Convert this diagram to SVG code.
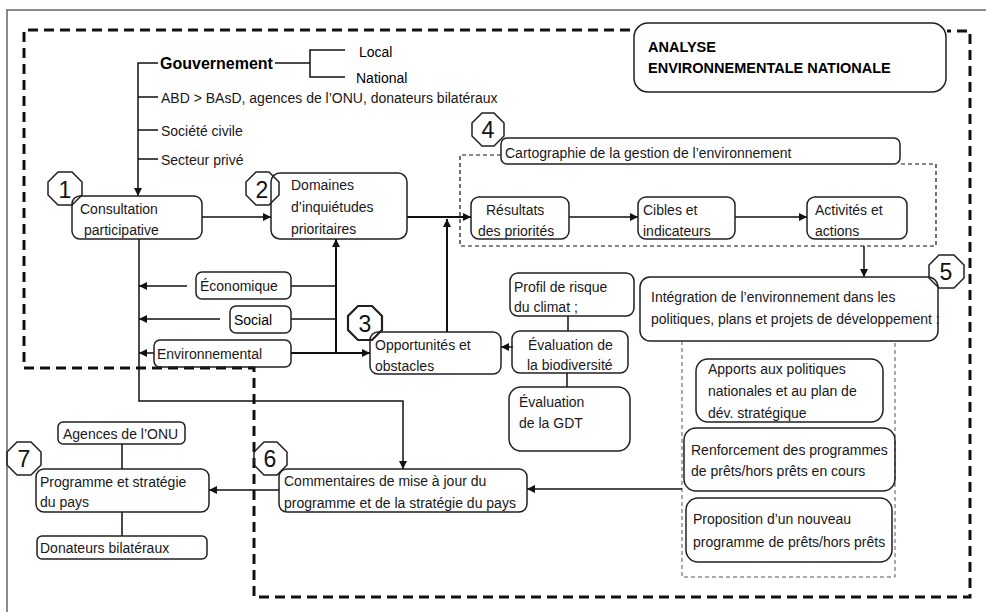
<svg xmlns="http://www.w3.org/2000/svg" width="986" height="612" viewBox="0 0 986 612">
<defs>
<marker id="ah" viewBox="0 0 10 10" refX="10" refY="5" markerWidth="9" markerHeight="8" markerUnits="userSpaceOnUse" orient="auto"><path d="M0,0 L10,5 L0,10 z" fill="#111"/></marker>
<style>
.t{font-family:"Liberation Sans",Arial,sans-serif;font-size:14px;fill:#1a1718}
.b{font-weight:bold;fill:#000}
.n{font-family:"Liberation Sans",Arial,sans-serif;font-size:23px;fill:#111;text-anchor:middle}
.box{fill:none;stroke:#231f20;stroke-width:1.5}
.oct{fill:none;stroke:#231f20;stroke-width:1.5}
.ln{fill:none;stroke:#111;stroke-width:1.5}
.thk{fill:none;stroke:#111;stroke-width:2}
.arr{marker-end:url(#ah)}
</style>
</defs>
<rect width="986" height="612" fill="#fff"/>
<path d="M7,612 V10 H986" fill="none" stroke="#666" stroke-width="1.5"/>
<path d="M630,30 H24 V368 H254 V597 H970 V31 H947" fill="none" stroke="#111" stroke-width="3" stroke-dasharray="10 6"/>
<path d="M501,155 H460 V246 H936 V164 H900" fill="none" stroke="#111" stroke-width="1.2" stroke-dasharray="4 3"/>
<path d="M682,341 V577 H895 V341" fill="none" stroke="#555" stroke-width="1" stroke-dasharray="4 3"/>

<g id="connectors">
<path class="ln" d="M158,63 H138 V196" marker-end="url(#ah)"/>
<path class="ln" d="M138,97 H158 M138,130 H158 M138,159 H158"/>
<path class="ln" d="M275,63 H310 M345,50 H310 V77 H345"/>
<path class="ln arr" d="M202,217 H271"/>
<path class="thk arr" d="M407,217 H471"/>
<path class="thk arr" d="M447,332 V219"/>
<path class="ln arr" d="M569,217 H638"/>
<path class="ln arr" d="M735,217 H807"/>
<path class="ln arr" d="M864,246 V277"/>
<path class="ln arr" d="M187,286 H139"/>
<path class="ln arr" d="M220,319 H139"/>
<path class="ln arr" d="M154,353 H139"/>
<path class="ln" d="M291,286 H336 M291,319 H336"/>
<path class="thk arr" d="M291,353 H370"/>
<path class="thk arr" d="M336,353 V239"/>
<path class="ln arr" d="M513,347 H501"/>
<path class="ln" d="M568,316 V331 M567,373 V387"/>
<path class="ln arr" d="M139,239 V401 H403 V469"/>
<path class="ln arr" d="M682,489 H527"/>
<path class="ln arr" d="M279,490 H209"/>
<path class="ln" d="M122,444 V469 M122,512 V536"/>
</g>

<g id="title">
<rect x="634" y="23" width="312" height="69" rx="14" fill="#fff" stroke="#231f20" stroke-width="1.5"/>
<text class="t b" x="648" y="52" style="font-size:14.5px">ANALYSE</text>
<text class="t b" x="648" y="73" style="font-size:14.5px">ENVIRONNEMENTALE NATIONALE</text>
</g>

<g id="gouvernement">
<text class="t b" x="160" y="69" style="font-size:16px">Gouvernement</text>
</g>
<g id="local"><text class="t" x="359" y="57" style="fill:#000">Local</text></g>
<g id="national"><text class="t" x="356" y="83" style="fill:#000">National</text></g>
<g id="abd"><text class="t" x="161" y="103">ABD &gt; BAsD, agences de l’ONU, donateurs bilatéraux</text></g>
<g id="societe"><text class="t" x="161" y="136">Société civile</text></g>
<g id="secteur"><text class="t" x="161" y="165">Secteur privé</text></g>

<g id="consultation">
<rect class="box" x="72" y="196" width="130" height="43" rx="8"/>
<text class="t" x="80" y="214">Consultation</text>
<text class="t" x="84" y="235">participative</text>
</g>
<g id="badge1">
<polygon class="oct" points="58,172 72,172 82,182 82,195 72,205 58,205 48,195 48,182"/>
<text class="n" x="65" y="198">1</text>
</g>

<g id="domaines">
<rect class="box" x="271" y="173" width="136" height="66" rx="9"/>
<text class="t" x="291" y="190">Domaines</text>
<text class="t" x="291" y="212">d’inquiétudes</text>
<text class="t" x="291" y="234">prioritaires</text>
</g>
<g id="badge2">
<polygon class="oct" points="256,172 269,172 279,182 279,195 269,205 256,205 246,195 246,182"/>
<text class="n" x="262" y="198">2</text>
</g>

<g id="cartographie">
<rect class="box" x="501" y="138" width="399" height="26" rx="6"/>
<text class="t" x="505" y="158">Cartographie de la gestion de l’environnement</text>
</g>
<g id="badge4">
<polygon class="oct" points="482,113 494,113 504,123 504,136 494,146 482,146 472,136 472,123"/>
<text class="n" x="488" y="138">4</text>
</g>

<g id="resultats">
<rect class="box" x="471" y="197" width="98" height="42" rx="8"/>
<text class="t" x="486" y="215">Résultats</text>
<text class="t" x="478" y="236">des priorités</text>
</g>
<g id="cibles">
<rect class="box" x="638" y="197" width="97" height="42" rx="8"/>
<text class="t" x="643" y="215">Cibles et</text>
<text class="t" x="643" y="236">indicateurs</text>
</g>
<g id="activites">
<rect class="box" x="807" y="197" width="100" height="42" rx="8"/>
<text class="t" x="815" y="215">Activités et</text>
<text class="t" x="815" y="236">actions</text>
</g>

<g id="integration">
<rect class="box" x="640" y="277" width="298" height="64" rx="10"/>
<text class="t" x="651" y="302">Intégration de l’environnement dans les</text>
<text class="t" x="651" y="324">politiques, plans et projets de développement :</text>
</g>
<g id="badge5">
<polygon class="oct" points="939,255 954,255 964,265 964,278 954,288 939,288 929,278 929,265"/>
<text class="n" x="946" y="280">5</text>
</g>

<g id="economique">
<rect class="box" x="196" y="272" width="95" height="27" rx="6"/>
<text class="t" x="200" y="291">Économique</text>
</g>
<g id="social">
<rect class="box" x="230" y="306" width="61" height="27" rx="6"/>
<text class="t" x="234" y="325" style="fill:#000">Social</text>
</g>
<g id="environnemental">
<rect class="box" x="154" y="340" width="137" height="27" rx="6"/>
<text class="t" x="157" y="359">Environnemental</text>
</g>

<g id="opportunites">
<rect class="box" x="370" y="332" width="131" height="42" rx="8"/>
<text class="t" x="375" y="350">Opportunités et</text>
<text class="t" x="375" y="371">obstacles</text>
</g>
<g id="badge3">
<polygon class="oct" points="358,306 372,306 382,316 382,330 372,340 358,340 348,330 348,316" style="stroke-width:2.2"/>
<text class="n" x="365" y="332">3</text>
</g>

<g id="profil">
<rect class="box" x="510" y="273" width="124" height="43" rx="8"/>
<text class="t" x="514" y="292">Profil de risque</text>
<text class="t" x="514" y="312">du climat ;</text>
</g>
<g id="biodiversite">
<rect class="box" x="512" y="331" width="116" height="42" rx="8"/>
<text class="t" x="528" y="350">Évaluation de</text>
<text class="t" x="527" y="370">la biodiversité</text>
</g>
<g id="gdt">
<rect class="box" x="509" y="387" width="121" height="64" rx="12"/>
<text class="t" x="519" y="407">Évaluation</text>
<text class="t" x="519" y="428">de la GDT</text>
</g>

<g id="apports">
<rect class="box" x="696" y="359" width="187" height="63" rx="12"/>
<text class="t" x="708" y="374">Apports aux politiques</text>
<text class="t" x="708" y="396">nationales et au plan de</text>
<text class="t" x="708" y="418">dév. stratégique</text>
</g>
<g id="renforcement">
<rect class="box" x="684" y="428" width="211" height="63" rx="12"/>
<text class="t" x="691" y="455">Renforcement des programmes</text>
<text class="t" x="691" y="476">de prêts/hors prêts en cours</text>
</g>
<g id="proposition">
<rect class="box" x="686" y="498" width="206" height="64" rx="12"/>
<text class="t" x="693" y="524">Proposition d’un nouveau</text>
<text class="t" x="693" y="547">programme de prêts/hors prêts</text>
</g>

<g id="commentaires">
<rect class="box" x="279" y="469" width="248" height="43" rx="8"/>
<text class="t" x="284" y="486">Commentaires de mise à jour du</text>
<text class="t" x="284" y="508">programme et de la stratégie du pays</text>
</g>
<g id="badge6">
<polygon class="oct" points="264,442 277,442 287,452 287,465 277,475 264,475 254,465 254,452"/>
<text class="n" x="270" y="467">6</text>
</g>

<g id="agences">
<rect class="box" x="58" y="422" width="127" height="22" rx="5"/>
<text class="t" x="63" y="439">Agences de l’ONU</text>
</g>
<g id="programme">
<rect class="box" x="36" y="469" width="173" height="43" rx="8"/>
<text class="t" x="40" y="487">Programme et stratégie</text>
<text class="t" x="40" y="507">du pays</text>
</g>
<g id="badge7">
<polygon class="oct" points="17,442 31,442 41,452 41,465 31,475 17,475 7,465 7,452"/>
<text class="n" x="24" y="467">7</text>
</g>
<g id="donateurs">
<rect class="box" x="37" y="536" width="170" height="23" rx="5"/>
<text class="t" x="40" y="553">Donateurs bilatéraux</text>
</g>
</svg>
